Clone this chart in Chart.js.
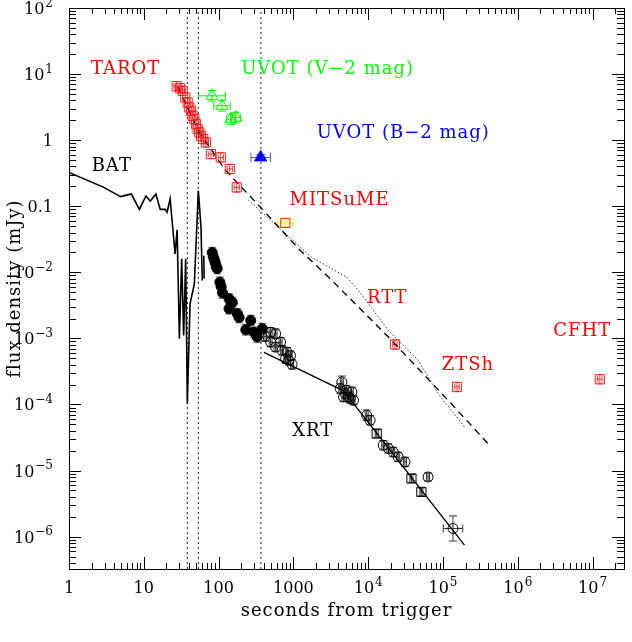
<!DOCTYPE html>
<html><head><meta charset="utf-8">
<script src="https://cdn.jsdelivr.net/npm/chart.js@4.4.0/dist/chart.umd.min.js"></script>
<style>html,body{margin:0;padding:0;background:#fff;overflow:hidden}canvas{display:block}</style>
</head><body>
<canvas id="c" width="632" height="642"></canvas>
<script>
// ---------- axis ----------
const xMin = 1, xMax = 2.63e7;
const yMin = 3.24e-7, yMax = 100;
const xTickVals = [1,10,100,1000,1e4,1e5,1e6,1e7];
const xTickText = ['1','10','100','1000','10^4','10^5','10^6','10^7'];
const yTickVals = [100,10,1,0.1,1e-2,1e-3,1e-4,1e-5,1e-6];
const yTickText = ['10^2','10^1','1','0.1','10^\u22122','10^\u22123','10^\u22124','10^\u22125','10^\u22126'];
const xTitle = 'seconds from trigger';
const yTitle = 'flux density (mJy)';

// ---------- BAT light curve ----------
const batTime = [1,2.92,4.87,6.82,8.72,10.7,12.2,14.5,16.6,19.3,20.5,22.5,26.2,27.9,29.9,32.1,34.1,36.3,38.2,41.5,47.4,53.6,58.2,60.5,62,63.5,64];
const batFlux = [0.325,0.193,0.140,0.153,0.0897,0.143,0.119,0.153,0.0897,0.0897,0.081,0.129,0.019,0.0439,0.00099,0.016,0.00111,0.016,1.03e-4,0.00334,0.0067,0.172,0.048,0.0075,null,0.0179,0.0080];

// ---------- optical ----------
const tarotTime = [27.5,30.5,33.1,35.9,38.6,40.6,42.8,45.0,47.4,49.9,52.4,55.2,58.2,62.4,67.8,79.0,107,141,175];
const tarotFlux = [6.56,6.12,5.57,4.42,3.71,3.12,2.78,2.34,2.08,1.75,1.47,1.31,1.16,1.04,0.923,0.617,0.548,0.366,0.193];
const uvotVTime = [81.5,111,146,170];
const uvotVFlux = [4.69,3.31,2.08,2.20];
const uvotVErrT = [0.18,0.11,0.06,0.06];
const uvotBTime = [365];
const uvotBFlux = [0.548];
const mitsumeTime = [780];
const mitsumeFlux = [0.056];
const lateOptTime = [22800,1.54e5,1.25e7];   // RTT, ZTSh, CFHT
const lateOptFlux = [8.1e-4,1.84e-4,2.41e-4];

// ---------- XRT ----------
const xrtFillTime = [82.2,84.8,87.4,90.1,92.9,95.8,104,108,113,138,153,138,178,188,269,231,297,329,384];
const xrtFillFlux = [0.0199,0.0173,0.0156,0.0141,0.0122,0.0114,0.00708,0.00609,0.00487,0.00398,0.0035,0.00281,0.00236,0.00207,0.00187,0.00135,0.00124,0.00105,0.0014];
const xrtOpenTime = [417,496,578,674,496,578,708,825,915,869,961,785,4440,4230,4930,5450,6040,6360,4680,5740,5130,9550,10600,15900,18600,21600,25200,31000,63200,1.36e5];
const xrtOpenFlux = [1.07e-3,1.24e-3,1.18e-3,8.8e-4,8.8e-4,7.4e-4,6.6e-4,6.2e-4,5.5e-4,4.66e-4,4.05e-4,4.93e-4,2.19e-4,1.74e-4,1.46e-4,1.30e-4,1.55e-4,1.16e-4,1.30e-4,1.23e-4,1.64e-4,6.87e-5,5.77e-5,2.42e-5,2.16e-5,1.91e-5,1.61e-5,1.35e-5,8.0e-6,1.33e-6];
const xrtOpenErrT = [0.02,0.02,0.02,0.02,0.02,0.02,0.02,0.02,0.02,0.02,0.02,0.02,0.02,0.02,0.02,0.02,0.02,0.02,0.02,0.02,0.02,0.02,0.02,0.02,0.02,0.02,0.02,0.02,0.02,0.13];
const xrtOpenErrF = [0.07,0.07,0.07,0.07,0.07,0.07,0.07,0.07,0.07,0.07,0.07,0.07,0.09,0.07,0.07,0.07,0.07,0.07,0.07,0.07,0.07,0.08,0.07,0.07,0.07,0.07,0.07,0.07,0.06,0.19];
const xrtSqTime = [13000,37900,51400];
const xrtSqFlux = [3.63e-5,7.6e-6,4.76e-6];

// ---------- models ----------
const optModelTime = [28.4,55.2,125,365,640,1180,2960,18600,1.17e5,4.39e5];
const optModelFlux = [6.41,1.31,0.345,0.0962,0.048,0.0226,0.00843,0.00105,1.16e-4,2.28e-5];
const optModel2Time = [250,640,1760,5180,7410,18600,46500,85900,1.94e5];
const optModel2Flux = [0.124,0.0475,0.0168,0.00843,0.00531,0.00132,4.70e-4,1.46e-4,4.57e-5];
const xrtModelTime = [404,4680,1.94e5];
const xrtModelFlux = [6.15e-4,1.61e-4,7.46e-7];
const vLineTimes = [38.2,53.6,368];

// ---------- annotations ----------
const annText = ['TAROT','UVOT (V\u22122 mag)','UVOT (B\u22122 mag)','BAT','MITSuME','RTT','ZTSh','CFHT','XRT'];
const annTime = [5.73,2870,29400,3.73,4140,18000,2.15e5,7.27e6,1810];
const annFlux = [12.0,12.0,1.25,0.396,0.1216,0.00402,3.91e-4,1.28e-3,3.94e-5];
const annColor = ['#ff0000','#00ff00','#0000ff','#000000','#ff0000','#ff0000','#ff0000','#ff0000','#000000'];

const FONT = '"DejaVu Serif", serif';
const pts = (t,f) => t.map((v,i)=>({x:v,y:f[i]}));

const datasets = [];
vLineTimes.forEach(t => datasets.push({type:'line', data:[{x:t,y:yMin},{x:t,y:yMax}], borderColor:'#222', borderWidth:1, borderDash:[2,3], pointRadius:0, order:20}));
datasets.push({type:'line', data:pts(batTime,batFlux), borderColor:'#000', borderWidth:1.6, pointRadius:0, spanGaps:false, order:15});
datasets.push({type:'line', data:pts(optModelTime,optModelFlux), borderColor:'#000', borderWidth:1.3, borderDash:[7,5], pointRadius:0, order:15});
datasets.push({type:'line', data:pts(optModel2Time,optModel2Flux), borderColor:'#333', borderWidth:1, borderDash:[1.5,2], pointRadius:0, order:15});
datasets.push({type:'line', data:pts(xrtModelTime,xrtModelFlux), borderColor:'#000', borderWidth:1.3, pointRadius:0, order:15});

datasets.push({data:pts(tarotTime,tarotFlux), pointStyle:'rect', pointRadius:6.5, borderColor:'#ff2020', backgroundColor:'rgba(0,0,0,0)', borderWidth:1, order:2,
  err:{x:0.035, y:0.07, color:'#ff3030', cap:3}});
datasets.push({data:pts(uvotVTime,uvotVFlux), pointStyle:'triangle', pointRadius:7, borderColor:'#00ff00', backgroundColor:'rgba(0,0,0,0)', borderWidth:1, order:2,
  err:{x:uvotVErrT, y:0.08, color:'#00ff00', cap:4}});
datasets.push({data:pts(uvotBTime,uvotBFlux), pointStyle:'triangle', pointRadius:7, borderColor:'#0000ff', backgroundColor:'#0000ff', borderWidth:1, order:2,
  err:{x:0.13, y:0.04, color:'#5050ff', cap:5}});
datasets.push({data:pts(mitsumeTime,mitsumeFlux), pointStyle:'rect', pointRadius:6.5, borderColor:'#ff2020', backgroundColor:'rgba(0,0,0,0)', borderWidth:1, order:2,
  err:{x:0.1, y:0.06, color:'#ffee00', cap:5}});
datasets.push({data:pts(lateOptTime,lateOptFlux), pointStyle:'rect', pointRadius:6.5, borderColor:'#ff2020', backgroundColor:'rgba(0,0,0,0)', borderWidth:1, order:2,
  err:{x:0.03, y:0.07, color:'#ff3030', cap:3}});
datasets.push({data:pts(xrtFillTime,xrtFillFlux), pointStyle:'circle', pointRadius:5, borderColor:'#000', backgroundColor:'#000', borderWidth:1, order:3,
  err:{x:0.02, y:0.08, color:'#666', cap:4}});
datasets.push({data:pts(xrtOpenTime,xrtOpenFlux), pointStyle:'circle', pointRadius:5, borderColor:'#000', backgroundColor:'rgba(0,0,0,0)', borderWidth:1, order:3,
  err:{x:xrtOpenErrT, y:xrtOpenErrF, color:'#333', cap:4}});
datasets.push({data:pts(xrtSqTime,xrtSqFlux), pointStyle:'rect', pointRadius:6.5, borderColor:'#000', backgroundColor:'rgba(0,0,0,0)', borderWidth:1, order:3,
  err:{x:0.02, y:0.06, color:'#333', cap:4}});

const errBars = {
  id:'errBars',
  beforeDatasetsDraw(chart){
    const ctx = chart.ctx, xs = chart.scales.x, ys = chart.scales.y;
    chart.data.datasets.forEach(ds => {
      if(!ds.err) return;
      const e = ds.err;
      ctx.save();
      ctx.beginPath(); ctx.rect(chart.chartArea.left, chart.chartArea.top, chart.chartArea.right-chart.chartArea.left, chart.chartArea.bottom-chart.chartArea.top); ctx.clip();
      ctx.strokeStyle = e.color; ctx.lineWidth = 1;
      ds.data.forEach((p,j) => {
        const ex = Array.isArray(e.x) ? e.x[j] : e.x;
        const ey = Array.isArray(e.y) ? e.y[j] : e.y;
        const px = xs.getPixelForValue(p.x), py = ys.getPixelForValue(p.y);
        const x0 = xs.getPixelForValue(p.x*Math.pow(10,-ex)), x1 = xs.getPixelForValue(p.x*Math.pow(10,ex));
        const y0 = ys.getPixelForValue(p.y*Math.pow(10,-ey)), y1 = ys.getPixelForValue(p.y*Math.pow(10,ey));
        const c = e.cap;
        ctx.beginPath();
        ctx.moveTo(x0,py); ctx.lineTo(x1,py);
        ctx.moveTo(px,y0); ctx.lineTo(px,y1);
        ctx.moveTo(x0,py-c); ctx.lineTo(x0,py+c);
        ctx.moveTo(x1,py-c); ctx.lineTo(x1,py+c);
        ctx.moveTo(px-c,y0); ctx.lineTo(px+c,y0);
        ctx.moveTo(px-c,y1); ctx.lineTo(px+c,y1);
        ctx.stroke();
      });
      ctx.restore();
    });
  }
};

function drawPow(ctx, s, x, y, size, align){
  const parts = s.split('^');
  const base = parts[0], exp = parts[1] || '';
  const es = Math.round(size*0.72);
  ctx.font = size + 'px ' + FONT;
  const wb = ctx.measureText(base).width;
  ctx.font = es + 'px ' + FONT;
  const we = exp ? ctx.measureText(exp).width + 1 : 0;
  const w = wb + we;
  const x0 = align === 'right' ? x - w : (align === 'center' ? x - w/2 : x);
  ctx.textAlign = 'left';
  ctx.font = size + 'px ' + FONT;
  ctx.fillText(base, x0, y);
  if (exp) { ctx.font = es + 'px ' + FONT; ctx.fillText(exp, x0 + wb + 1, y - size*0.45); }
}

const frame = {
  id:'frame',
  beforeDraw(chart){
    const ctx = chart.ctx;
    ctx.save(); ctx.fillStyle = '#fff'; ctx.fillRect(0,0,chart.width,chart.height); ctx.restore();
  },
  afterDraw(chart){
    const ctx = chart.ctx, xs = chart.scales.x, ys = chart.scales.y, a = chart.chartArea;
    ctx.save();
    ctx.strokeStyle = '#000'; ctx.lineWidth = 1;
    ctx.strokeRect(Math.round(a.left)+0.5, Math.round(a.top)+0.5, Math.round(a.right-a.left), Math.round(a.bottom-a.top));
    ctx.beginPath();
    for (let d = 0; d <= 8; d++) for (let m = 1; m <= 9; m++) {
      const v = m*Math.pow(10,d);
      if (v < xMin || v > xMax) continue;
      const px = Math.round(xs.getPixelForValue(v)) + 0.5, len = m === 1 ? 12 : 6;
      ctx.moveTo(px, a.bottom); ctx.lineTo(px, a.bottom - len);
      ctx.moveTo(px, a.top); ctx.lineTo(px, a.top + len);
    }
    for (let d = -7; d <= 2; d++) for (let m = 1; m <= 9; m++) {
      const v = m*Math.pow(10,d);
      if (v < yMin*0.999 || v > yMax*1.001) continue;
      const py = Math.round(ys.getPixelForValue(v)) + 0.5, len = m === 1 ? 12 : 7;
      ctx.moveTo(a.left, py); ctx.lineTo(a.left + len, py);
      ctx.moveTo(a.right, py); ctx.lineTo(a.right - len, py);
    }
    ctx.stroke();
    // tick labels
    ctx.fillStyle = '#000'; ctx.textBaseline = 'alphabetic';
    xTickVals.forEach((v,i) => drawPow(ctx, xTickText[i], xs.getPixelForValue(v), a.bottom + 24, 16, 'center'));
    yTickVals.forEach((v,i) => drawPow(ctx, yTickText[i], a.left - 16, ys.getPixelForValue(v) + 6, 16, 'right'));
    // axis titles
    ctx.font = '18px ' + FONT; ctx.textAlign = 'center';
    try { ctx.letterSpacing = '1px'; } catch(e) {}
    ctx.fillText(xTitle, (a.left + a.right)/2, 616);
    ctx.save(); ctx.translate(20, (a.top + a.bottom)/2); ctx.rotate(-Math.PI/2);
    ctx.fillText(yTitle, 0, 0); ctx.restore();
    // annotations
    ctx.textBaseline = 'middle';
    annText.forEach((t,i) => {
      ctx.fillStyle = annColor[i];
      ctx.font = '18px ' + FONT;
      ctx.fillText(t, xs.getPixelForValue(annTime[i]), ys.getPixelForValue(annFlux[i]));
    });
    try { ctx.letterSpacing = '0px'; } catch(e) {}
    ctx.restore();
  }
};

new Chart(document.getElementById('c'), {
  type:'scatter',
  data:{datasets},
  options:{
    responsive:false, animation:false, devicePixelRatio:1,
    layout:{padding:{left:69,right:5,top:7,bottom:73}},
    scales:{
      x:{type:'logarithmic', min:xMin, max:xMax, display:false},
      y:{type:'logarithmic', min:yMin, max:yMax, display:false}
    },
    plugins:{legend:{display:false}, tooltip:{enabled:false}}
  },
  plugins:[errBars, frame]
});
</script>
</body></html>
